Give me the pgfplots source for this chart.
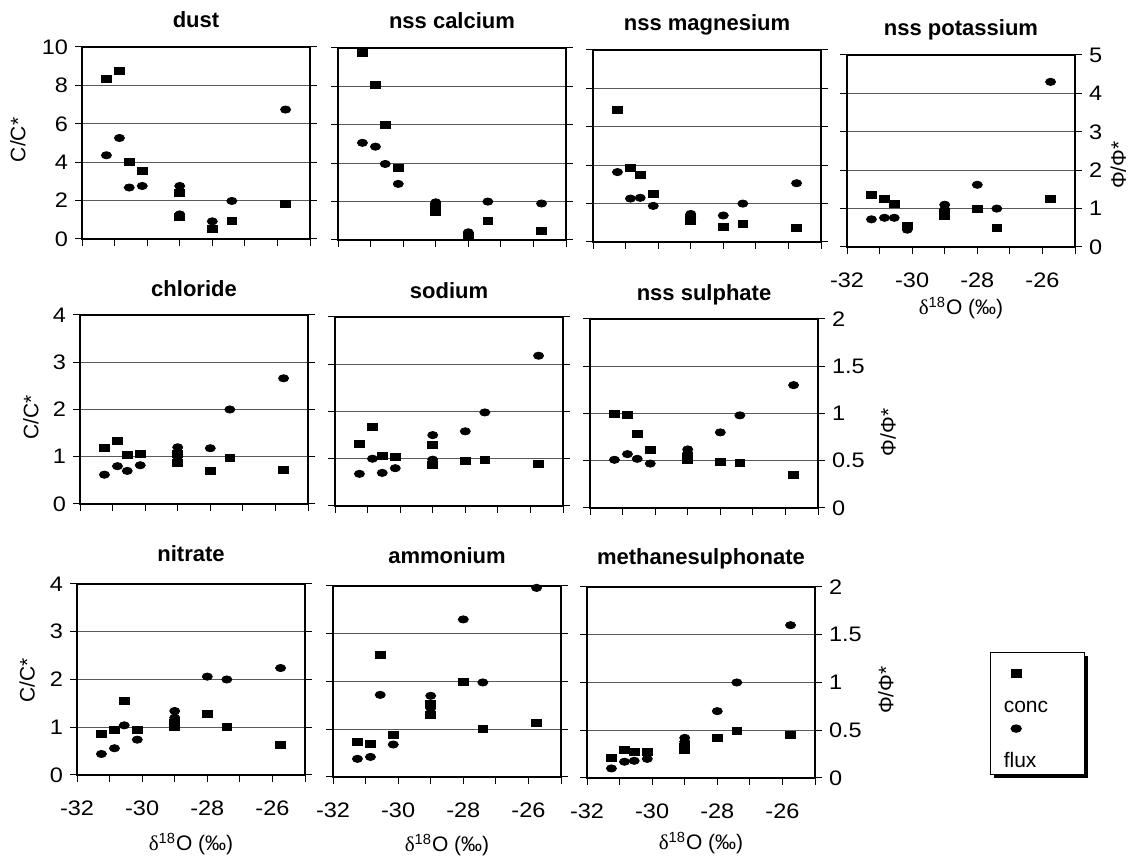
\documentclass[border=0pt]{standalone}
\usepackage{fontspec}
\setmainfont{Liberation Sans}
\newfontfamily\greekserif{Liberation Serif}
\newfontfamily\tickfont[FakeStretch=1.12]{Liberation Sans}
\usepackage{pgfplots}
\pgfplotsset{compat=1.18}
\usepackage{pgfplotstable}
\usetikzlibrary{shadows}

\pgfplotstableread{
x c f
-31.25 8.33 2.18
-30.85 8.76 2.63
-30.55 4.03 1.34
-30.15 3.57 1.38
-29.0 2.41 1.38
-29.0 1.15 0.64
-28.0 0.50 0.46
-27.4 0.96 0.99
-25.75 1.85 3.37
}\dust
\pgfplotstableread{
x c f
-31.25 9.72 2.53
-30.85 8.10 2.43
-30.55 6.00 1.98
-30.15 3.78 1.46
-29.0 1.70 0.98
-29.0 1.45 0.90
-28.0 0.20 0.20
-27.4 0.97 1.00
-25.75 0.46 0.95
}\calcium
\pgfplotstableread{
x c f
-31.25 6.87 1.82
-30.85 3.85 1.13
-30.55 3.50 1.15
-30.15 2.48 0.94
-29.0 1.25 0.73
-29.0 1.10 0.65
-28.0 0.80 0.69
-27.4 0.94 1.00
-25.75 0.75 1.53
}\magnesium
\pgfplotstableread{
x c f
-31.25 2.72 0.72
-30.85 2.52 0.76
-30.55 2.26 0.76
-30.15 1.10 0.45
-29.0 1.80 1.10
-29.0 1.60 0.98
-28.0 1.96 1.62
-27.4 1.00 1.00
-25.75 2.48 4.30
}\potassium
\pgfplotstableread{
x c f
-31.25 1.18 0.31
-30.85 1.34 0.40
-30.55 1.03 0.35
-30.15 1.05 0.41
-29.0 1.05 0.60
-29.0 0.88 0.50
-28.0 0.71 0.59
-27.4 0.98 1.00
-25.75 0.72 1.33
}\chloride
\pgfplotstableread{
x c f
-31.25 1.32 0.34
-30.85 1.67 0.50
-30.55 1.05 0.35
-30.15 1.03 0.40
-29.0 1.30 0.75
-29.0 0.88 0.49
-28.0 0.95 0.79
-27.4 0.98 0.99
-25.75 0.89 1.59
}\sodium
\pgfplotstableread{
x c f
-31.25 2.00 0.51
-30.85 1.96 0.57
-30.55 1.57 0.52
-30.15 1.23 0.47
-29.0 1.08 0.62
-29.0 1.02 0.58
-28.0 0.98 0.80
-27.4 0.96 0.98
-25.75 0.70 1.30
}\sulphate
\pgfplotstableread{
x c f
-31.25 0.86 0.22
-30.85 0.94 0.28
-30.55 1.55 0.52
-30.15 0.94 0.37
-29.0 1.10 0.67
-29.0 1.00 0.60
-28.0 1.28 1.03
-27.4 1.00 1.00
-25.75 0.63 1.12
}\nitrate
\pgfplotstableread{
x c f
-31.25 0.73 0.19
-30.85 0.70 0.21
-30.55 2.55 0.86
-30.15 0.89 0.34
-29.0 1.54 0.85
-29.0 1.30 0.72
-28.0 2.00 1.65
-27.4 1.00 0.99
-25.75 1.13 1.98
}\ammonium
\pgfplotstableread{
x c f
-31.25 0.42 0.10
-30.85 0.58 0.17
-30.55 0.55 0.18
-30.15 0.55 0.20
-29.0 0.66 0.42
-29.0 0.58 0.38
-28.0 0.83 0.70
-27.4 0.98 1.00
-25.75 0.90 1.60
}\methane

\newcommand\dlabel{{\greekserif δ}\textsuperscript{18}O (‰)}

\pgfplotsset{
  panel/.style={
    scale only axis, width=114pt, anchor=south west,
    xmin=-32, xmax=-25, xtick={-32,-31,...,-25}, xticklabels={},
    xtick pos=bottom, ytick pos=both,
    tick align=outside, major tick length=3.5pt,
    ymajorgrids, major grid style={line width=0.5pt, color=black!65},
    axis line style={line width=1.2pt},
    tick style={line width=0.5pt, black},
    tick label style={font=\tickfont\fontsize{10.5}{12}\selectfont},
    label style={font=\fontsize{10.5}{12}\selectfont},
    title style={font=\bfseries\fontsize{11}{13}\selectfont, at={(0.5,1)}, anchor=base},
    yticklabels={},
    xticklabel style={anchor=base, yshift=-17pt},
    clip=false,
  },
  rowA/.style={height=96pt, ymin=0, ymax=10, ytick={0,2,4,6,8,10}, title style={yshift=3.8pt}},
  rowB/.style={height=94.5pt, ymin=0, ymax=4, ytick={0,1,2,3,4}, title style={yshift=3.3pt}},
  rowC/.style={height=95.5pt, ymin=0, ymax=4, ytick={0,1,2,3,4}, title style={yshift=5.2pt}},
  bottomx/.style={xticklabels={-32,,-30,,-28,,-26,}, xlabel={\dlabel},
    xlabel style={at={(axis description cs:0.5,0)}, anchor=base, yshift=#1}},
  fluxax/.style={scale only axis, width=114pt, anchor=south west,
    xmin=-32, xmax=-25, ymin=0, hide axis, clip=false},
  concmark/.style={only marks, mark=square*, mark size=1.75pt, black,
    mark options={xscale=1.4, fill=black, draw=black}},
  fluxmark/.style={only marks, mark=*, mark size=1.8pt, black,
    mark options={xscale=1.4, fill=black, draw=black}},
}

\begin{document}
\begin{tikzpicture}
\path[use as bounding box] (0,0) rectangle (567.5pt,430pt);

% ---------- row 1 ----------
\begin{axis}[panel, rowA, at={(41pt,310.5pt)}, title={dust},
  yticklabel pos=left, yticklabels={0,2,4,6,8,10}, ylabel={C/C*},
  ylabel style={at={(axis description cs:-0.281,0.516)}, anchor=center}]
\addplot[concmark] table[x=x,y=c]{\dust};
\end{axis}
\begin{axis}[fluxax, height=96pt, ymax=5, at={(41pt,310.5pt)}]
\addplot[fluxmark] table[x=x,y=f]{\dust};
\end{axis}

\begin{axis}[panel, rowA, at={(169pt,310pt)}, title={nss calcium}]
\addplot[concmark] table[x=x,y=c]{\calcium};
\end{axis}
\begin{axis}[fluxax, height=96pt, ymax=5, at={(169pt,310pt)}]
\addplot[fluxmark] table[x=x,y=f]{\calcium};
\end{axis}

\begin{axis}[panel, rowA, at={(296.5pt,309pt)}, title={nss magnesium}]
\addplot[concmark] table[x=x,y=c]{\magnesium};
\end{axis}
\begin{axis}[fluxax, height=96pt, ymax=5, at={(296.5pt,309pt)}]
\addplot[fluxmark] table[x=x,y=f]{\magnesium};
\end{axis}

\begin{axis}[panel, rowA, at={(423.5pt,306.5pt)}, title={nss potassium},
  yticklabel pos=right, yticklabels={0,1,2,3,4,5}, ylabel={Φ/Φ*},
  ylabel style={at={(axis description cs:1.19,0.427)}, anchor=center},
  bottomx=-34pt]
\addplot[concmark] table[x=x,y=c]{\potassium};
\end{axis}
\begin{axis}[fluxax, height=96pt, ymax=5, at={(423.5pt,306.5pt)}]
\addplot[fluxmark] table[x=x,y=f]{\potassium};
\end{axis}

% ---------- row 2 ----------
\begin{axis}[panel, rowB, at={(40pt,178pt)}, title={chloride},
  yticklabel pos=left, yticklabels={0,1,2,3,4}, ylabel={C/C*},
  ylabel style={at={(axis description cs:-0.215,0.46)}, anchor=center}]
\addplot[concmark] table[x=x,y=c]{\chloride};
\end{axis}
\begin{axis}[fluxax, height=94.5pt, ymax=2, at={(40pt,178pt)}]
\addplot[fluxmark] table[x=x,y=f]{\chloride};
\end{axis}

\begin{axis}[panel, rowB, at={(167.5pt,177pt)}, title={sodium}]
\addplot[concmark] table[x=x,y=c]{\sodium};
\end{axis}
\begin{axis}[fluxax, height=94.5pt, ymax=2, at={(167.5pt,177pt)}]
\addplot[fluxmark] table[x=x,y=f]{\sodium};
\end{axis}

\begin{axis}[panel, rowB, at={(295pt,176pt)}, title={nss sulphate},
  yticklabel pos=right, yticklabels={0,0.5,1,1.5,2}, ylabel={Φ/Φ*},
  ylabel style={at={(axis description cs:1.307,0.40)}, anchor=center}]
\addplot[concmark] table[x=x,y=c]{\sulphate};
\end{axis}
\begin{axis}[fluxax, height=94.5pt, ymax=2, at={(295pt,176pt)}]
\addplot[fluxmark] table[x=x,y=f]{\sulphate};
\end{axis}

% ---------- row 3 ----------
\begin{axis}[panel, rowC, at={(38.5pt,42.5pt)}, title={nitrate},
  yticklabel pos=left, yticklabels={0,1,2,3,4}, ylabel={C/C*},
  ylabel style={at={(axis description cs:-0.219,0.497)}, anchor=center},
  bottomx=-38pt]
\addplot[concmark] table[x=x,y=c]{\nitrate};
\end{axis}
\begin{axis}[fluxax, height=95.5pt, ymax=2, at={(38.5pt,42.5pt)}]
\addplot[fluxmark] table[x=x,y=f]{\nitrate};
\end{axis}

\begin{axis}[panel, rowC, at={(166.5pt,41.5pt)}, title={ammonium}, bottomx=-37.5pt]
\addplot[concmark] table[x=x,y=c]{\ammonium};
\end{axis}
\begin{axis}[fluxax, height=95.5pt, ymax=2, at={(166.5pt,41.5pt)}]
\addplot[fluxmark] table[x=x,y=f]{\ammonium};
\end{axis}

\begin{axis}[panel, rowC, at={(293.5pt,41pt)}, title={methanesulphonate},
  yticklabel pos=right, yticklabels={0,0.5,1,1.5,2}, ylabel={Φ/Φ*},
  ylabel style={at={(axis description cs:1.311,0.46)}, anchor=center},
  bottomx=-36pt,
  legend image code/.code={\path (0pt,0pt); \draw[#1,overlay] plot coordinates {(8.5pt,19.5pt)};},
  legend style={at={(axis description cs:1.7675,0.6597)}, anchor=north west,
    draw=black, line width=0.6pt, fill=white, inner xsep=4pt, inner ysep=0pt,
    font=\fontsize{10.5}{12}\selectfont,
    cells={anchor=base west}, row sep=0pt,
    /tikz/every odd column/.style={column sep=0pt},
    drop shadow={shadow xshift=1.5pt, shadow yshift=-1.5pt, fill=black, opacity=1}}]
\addplot[concmark] table[x=x,y=c]{\methane};
\addlegendentry{\rule[-2pt]{0pt}{30pt}\makebox[34.5pt][l]{conc}}
\addlegendimage{fluxmark}
\addlegendentry{\rule[-9pt]{0pt}{31pt}\makebox[34.5pt][l]{flux}}
\end{axis}
\begin{axis}[fluxax, height=95.5pt, ymax=2, at={(293.5pt,41pt)}]
\addplot[fluxmark] table[x=x,y=f]{\methane};
\end{axis}

\end{tikzpicture}
\end{document}
